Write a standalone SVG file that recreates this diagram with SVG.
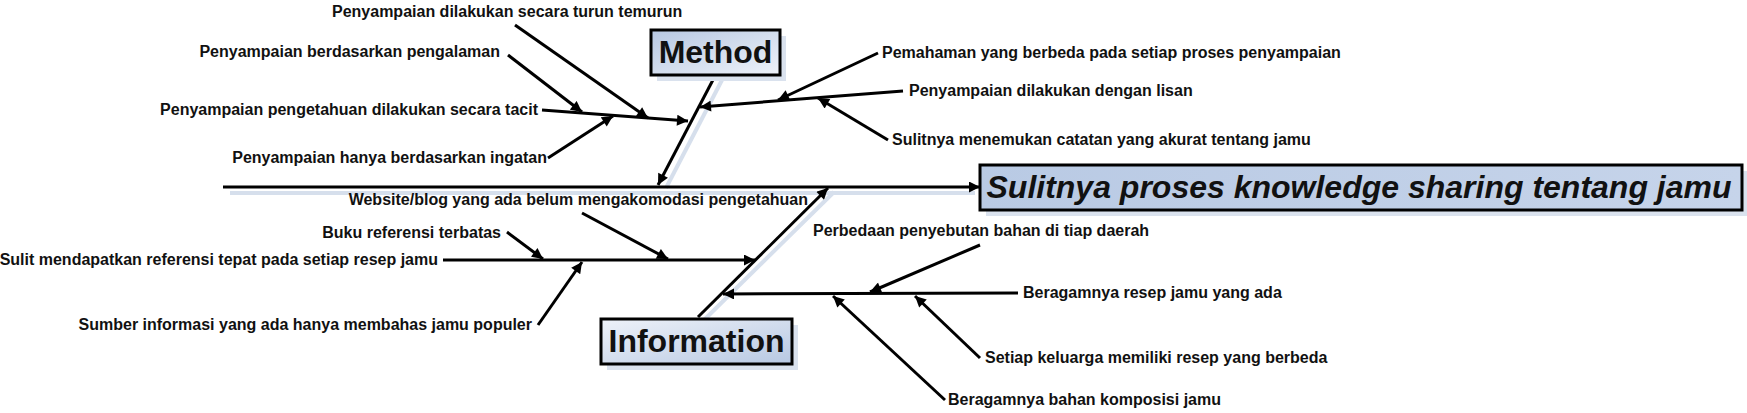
<svg xmlns="http://www.w3.org/2000/svg" width="1747" height="413" viewBox="0 0 1747 413">
<style>
text{font-family:"Liberation Sans",Arial,sans-serif;fill:#111;}
.lbl{font-size:16px;font-weight:bold;}
.big{font-size:32px;font-weight:bold;}
.end{text-anchor:end;}
.con{stroke:#000;stroke-width:3;fill:none;marker-end:url(#ah);}
.shd{stroke:#d6dfec;stroke-width:4;fill:none;}
.box{stroke:#000;stroke-width:3;}
.bshd{fill:#dae2ee;}
</style>
<defs>
<marker id="ah" viewBox="0 0 10 10" refX="10" refY="5" markerUnits="userSpaceOnUse" markerWidth="13" markerHeight="11" orient="auto">
<path d="M0,0 L10,5 L0,10 z" fill="#000"/>
</marker>
<linearGradient id="gm" x1="0" y1="0" x2="1" y2="1">
<stop offset="0" stop-color="#b7c8e2"/>
<stop offset="1" stop-color="#eef2f9"/>
</linearGradient>
<linearGradient id="gi" x1="0" y1="0" x2="1" y2="1">
<stop offset="0" stop-color="#eef2f9"/>
<stop offset="1" stop-color="#b7c8e2"/>
</linearGradient>
<linearGradient id="gh" x1="0" y1="0" x2="1" y2="0">
<stop offset="0" stop-color="#b9cae4"/>
<stop offset="1" stop-color="#c6d4ea"/>
</linearGradient>
</defs>
<rect width="1747" height="413" fill="#fff"/>

<g id="connectors">
<line class="shd" x1="230" y1="193" x2="975" y2="193"/>
<line class="shd" x1="722" y1="80" x2="666" y2="188"/>
<line class="shd" x1="704" y1="320" x2="834" y2="192"/>
<line class="con" x1="223" y1="187" x2="980" y2="187"/>
<line class="con" x1="715" y1="76" x2="658" y2="185"/>
<line class="con" x1="542" y1="110" x2="688" y2="121"/>
<line class="con" x1="508" y1="55" x2="582" y2="112"/>
<line class="con" x1="515" y1="25" x2="648" y2="118"/>
<line class="con" x1="548" y1="158" x2="613" y2="116"/>
<line class="con" x1="903" y1="91" x2="700" y2="107"/>
<line class="con" x1="878" y1="53" x2="778" y2="100"/>
<line class="con" x1="888" y1="140" x2="818" y2="98"/>
<line class="con" x1="698" y1="317" x2="828" y2="188"/>
<line class="con" x1="443" y1="260" x2="755" y2="260"/>
<line class="con" x1="507" y1="232" x2="543" y2="259"/>
<line class="con" x1="582" y1="213" x2="668" y2="259"/>
<line class="con" x1="538" y1="325" x2="582" y2="262"/>
<line class="con" x1="1018" y1="293" x2="723" y2="294"/>
<line class="con" x1="980" y1="245" x2="870" y2="292"/>
<line class="con" x1="980" y1="358" x2="915" y2="296"/>
<line class="con" x1="945" y1="400" x2="833" y2="296"/>
</g>

<g id="head">
<rect class="bshd" x="986" y="171" width="761" height="45"/>
<rect class="box" x="980" y="165" width="762" height="45" fill="url(#gh)"/>
<text class="big" x="1359" y="198" text-anchor="middle" font-style="italic">Sulitnya proses knowledge sharing tentang jamu</text>
</g>

<g id="method">
<rect class="bshd" x="657" y="36" width="129" height="45"/>
<rect class="box" x="651" y="30" width="129" height="45" fill="url(#gm)"/>
<text class="big" x="715.5" y="63" text-anchor="middle">Method</text>
</g>

<g id="information">
<rect class="bshd" x="607" y="325" width="191" height="45"/>
<rect class="box" x="601" y="319" width="191" height="45" fill="url(#gi)"/>
<text class="big" x="696.5" y="352" text-anchor="middle">Information</text>
</g>

<g id="method-causes">
<text class="lbl" x="332" y="17">Penyampaian dilakukan secara turun temurun</text>
<text class="lbl end" x="500" y="57">Penyampaian berdasarkan pengalaman</text>
<text class="lbl end" x="538" y="115">Penyampaian pengetahuan dilakukan secara tacit</text>
<text class="lbl end" x="547" y="163">Penyampaian hanya berdasarkan ingatan</text>
<text class="lbl" x="882" y="58">Pemahaman yang berbeda pada setiap proses penyampaian</text>
<text class="lbl" x="909" y="96">Penyampaian dilakukan dengan lisan</text>
<text class="lbl" x="892" y="145">Sulitnya menemukan catatan yang akurat tentang jamu</text>
</g>

<g id="information-causes">
<text class="lbl end" x="808" y="205">Website/blog yang ada belum mengakomodasi pengetahuan</text>
<text class="lbl end" x="501" y="238">Buku referensi terbatas</text>
<text class="lbl end" x="438" y="265">Sulit mendapatkan referensi tepat pada setiap resep jamu</text>
<text class="lbl end" x="532" y="330">Sumber informasi yang ada hanya membahas jamu populer</text>
<text class="lbl" x="813" y="236">Perbedaan penyebutan bahan di tiap daerah</text>
<text class="lbl" x="1023" y="298">Beragamnya resep jamu yang ada</text>
<text class="lbl" x="985" y="363">Setiap keluarga memiliki resep yang berbeda</text>
<text class="lbl" x="948" y="405">Beragamnya bahan komposisi jamu</text>
</g>
</svg>
